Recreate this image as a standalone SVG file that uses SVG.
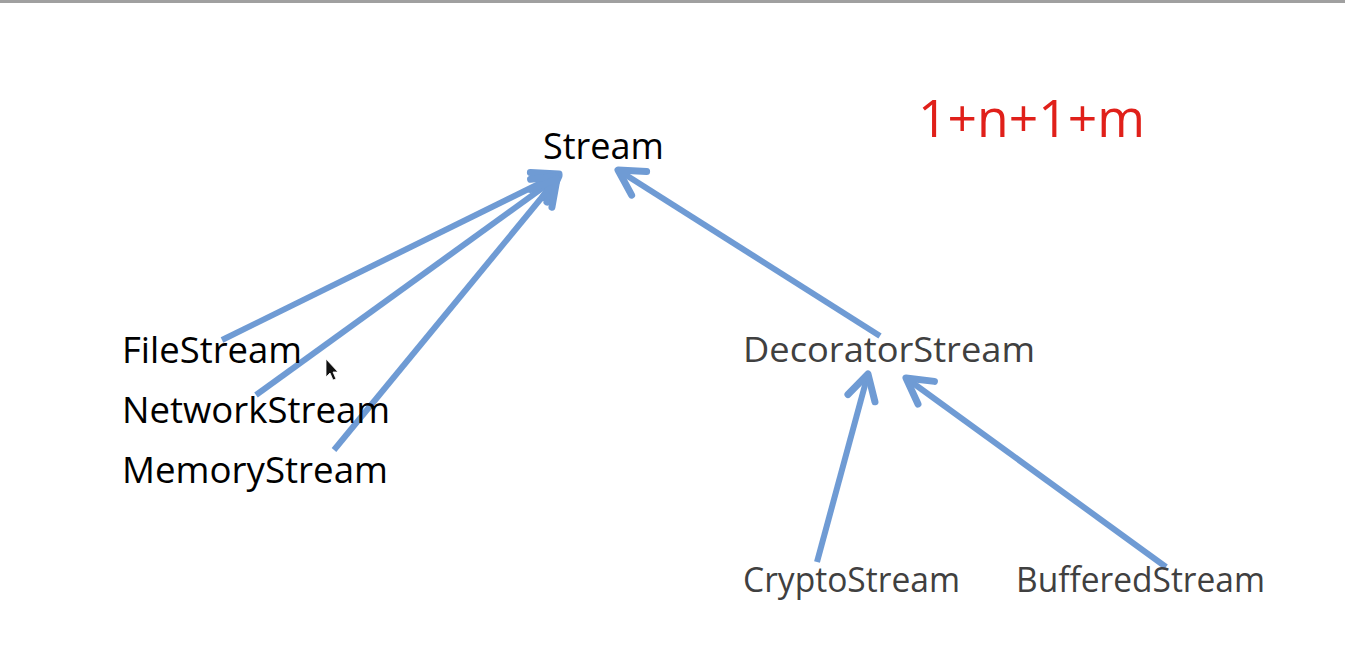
<svg xmlns="http://www.w3.org/2000/svg" width="1345" height="655" viewBox="0 0 1345 655">
  <defs>
    <style>
      .lbl { font-family: "Open Sans", "Noto Sans", "Liberation Sans", sans-serif; }
      .dark { fill: #000000; }
      .gray { fill: #404040; }
      .red { fill: #e0201a; }
      .edge { stroke: #6f9bd4; stroke-width: 6; fill: none; stroke-linecap: butt; marker-end: url(#arrow); }
    </style>
    <marker id="arrow" markerUnits="userSpaceOnUse" markerWidth="60" markerHeight="60" viewBox="-40 -30 60 60" refX="0" refY="0" orient="auto" overflow="visible">
      <path d="M -25 -14 L 0 0 L -25 14" fill="none" stroke="#6f9bd4" stroke-width="7" stroke-linecap="round" stroke-linejoin="round"/>
    </marker>
  </defs>
  <rect x="0" y="0" width="1345" height="655" fill="#ffffff"/>
  <rect x="0" y="0" width="1345" height="3" fill="#a0a0a0"/>

  <g id="connectors">
    <line class="edge" x1="222" y1="340" x2="559" y2="174"/>
    <line class="edge" x1="256" y1="395" x2="559" y2="176"/>
    <line class="edge" x1="334" y1="450" x2="557" y2="179"/>
    <line class="edge" x1="880" y1="336" x2="618" y2="170"/>
    <line class="edge" x1="817" y1="562" x2="868" y2="374"/>
    <line class="edge" x1="1166" y1="567" x2="906" y2="378"/>
  </g>

  <g id="node-stream"><text class="lbl dark" x="543" y="159" font-size="36" textLength="121" lengthAdjust="spacingAndGlyphs">Stream</text></g>
  <g id="node-formula"><text class="lbl red" x="918" y="137" font-size="51" textLength="227" lengthAdjust="spacingAndGlyphs">1+n+1+m</text></g>
  <g id="node-filestream"><text class="lbl dark" x="122" y="363" font-size="36" textLength="180" lengthAdjust="spacingAndGlyphs">FileStream</text></g>
  <g id="node-networkstream"><text class="lbl dark" x="122" y="423" font-size="36" textLength="268" lengthAdjust="spacingAndGlyphs">NetworkStream</text></g>
  <g id="node-memorystream"><text class="lbl dark" x="122" y="483" font-size="36" textLength="266" lengthAdjust="spacingAndGlyphs">MemoryStream</text></g>
  <g id="node-decoratorstream"><text class="lbl gray" x="743" y="362" font-size="34" textLength="292" lengthAdjust="spacingAndGlyphs">DecoratorStream</text></g>
  <g id="node-cryptostream"><text class="lbl gray" x="743" y="592" font-size="34" textLength="217" lengthAdjust="spacingAndGlyphs">CryptoStream</text></g>
  <g id="node-bufferedstream"><text class="lbl gray" x="1016" y="592" font-size="34" textLength="249" lengthAdjust="spacingAndGlyphs">BufferedStream</text></g>

  <g id="cursor">
    <path d="M 326 359 L 326 377 L 330 373 L 333 380 L 336 379 L 333 372 L 338 372 Z" fill="#111111" stroke="#ffffff" stroke-width="0.8"/>
  </g>
</svg>
